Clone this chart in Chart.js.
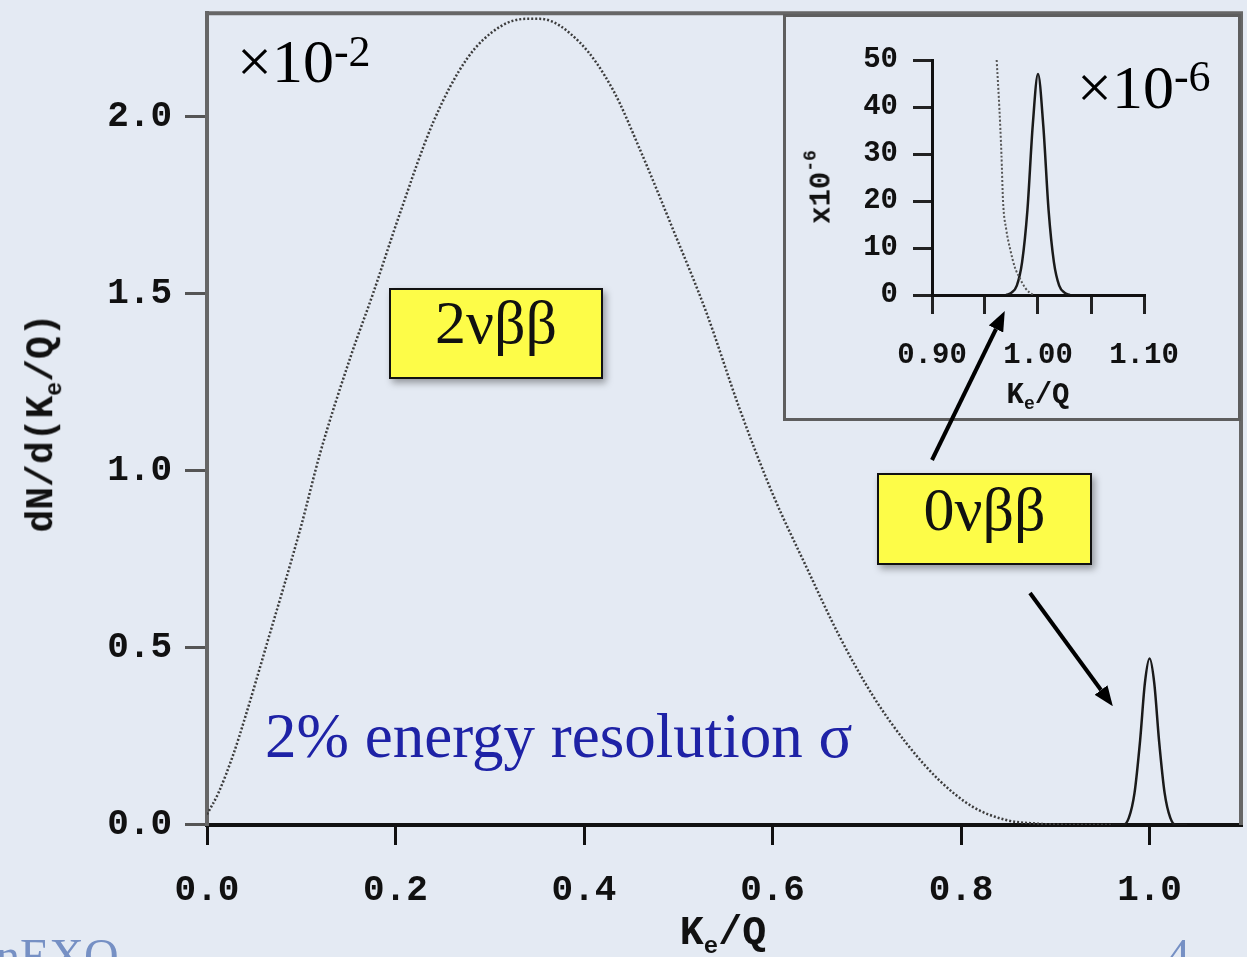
<!DOCTYPE html>
<html lang="en">
<head>
    <meta charset="UTF-8">
    <title>2νββ and 0νββ spectrum</title>
    <script src="https://cdn.jsdelivr.net/npm/chart.js@4.4.0/dist/chart.umd.min.js"></script>
    <style>
        html, body { margin: 0; padding: 0; }
        body {
            width: 1247px; height: 957px; overflow: hidden; position: relative;
            background: #e4eaf3;
            font-family: 'Liberation Serif', 'Times New Roman', serif;
        }
        canvas { position: absolute; }
        #main { left: 0; top: 0; }
        #inset { left: 783px; top: 14px; }
        .insetBox {
            position: absolute; left: 783px; top: 14px; width: 458px; height: 407px;
            border: 3px solid #5e5e5e; box-sizing: border-box;
        }
        .note { position: absolute; white-space: nowrap; line-height: 1; }
        .mono { font-family: 'Liberation Mono', 'Courier New', monospace; font-weight: bold; color: #111; }
        .center { transform: translate(-50%, -50%); }
        .rot { transform: translate(-50%, -50%) rotate(-90deg); }
        .tag {
            position: absolute; background: #fdfc48; border: 2px solid #111; box-sizing: border-box;
            text-align: center; font-size: 62px; color: #111;
            box-shadow: 3px 4px 7px rgba(0, 0, 0, 0.35);
        }
        .slide { color: #7690c4; font-size: 48px; }
    </style>
</head>
<body>
    <canvas id="main" width="1247" height="957"></canvas>
    <div class="insetBox"></div>
    <canvas id="inset" width="457" height="406"></canvas>

    <!-- axis titles -->
    <div class="note mono rot" style="left:45px; top:423px; font-size:38px;">dN/d(K<sub style="font-size:23px;">e</sub>/Q)</div>
    <div class="note mono center" style="left:723px; top:936px; font-size:40px;">K<sub style="font-size:24px;">e</sub>/Q</div>
    <div class="note mono center" style="left:1038px; top:397px; font-size:29px;">K<sub style="font-size:18px;">e</sub>/Q</div>
    <div class="note mono rot" style="left:822px; top:187px; font-size:29px;">x10<span style="font-size:18px; position:relative; top:-14px;">-6</span></div>

    <!-- annotations -->
    <div class="note" style="left:237px; top:30px; font-size:62px;">×10<span style="font-size:44px; position:relative; top:-16px;">-2</span></div>
    <div class="note" style="left:1077px; top:56px; font-size:62px;">×10<span style="font-size:44px; position:relative; top:-17px;">-6</span></div>
    <div class="tag" style="left:389px; top:288px; width:214px; height:91px; line-height:65px;">2νββ</div>
    <div class="tag" style="left:877px; top:473px; width:215px; height:92px; line-height:69px;">0νββ</div>
    <div class="note" style="left:265px; top:705px; font-size:63px; color:#1e22a6;">2% energy resolution σ</div>
    <div class="note slide" style="left:-4px; top:932px;">nEXO</div>
    <div class="note slide" style="left:1166px; top:932px;">4</div>

    <svg width="1247" height="957" style="position:absolute; left:0; top:0;">
        <defs>
            <marker id="head" markerWidth="5" markerHeight="4" refX="0" refY="2" orient="auto" markerUnits="strokeWidth">
                <path d="M0,0 L5,2 L0,4 z" fill="#000"/>
            </marker>
        </defs>
        <line x1="932" y1="460" x2="996" y2="329" stroke="#000" stroke-width="4" marker-end="url(#head)"/>
        <line x1="1030" y1="593" x2="1101" y2="690" stroke="#000" stroke-width="4" marker-end="url(#head)"/>
    </svg>

    <script>
        // main panel: dN/d(Ke/Q) in units of 1e-2
        const k2nu = [0, 0.012, 0.028, 0.04, 0.064, 0.1, 0.12, 0.152, 0.176, 0.205, 0.24, 0.276, 0.311, 0.339, 0.353,
                      0.396, 0.431, 0.459, 0.494, 0.53, 0.565, 0.6, 0.636, 0.671, 0.706, 0.742, 0.777, 0.812, 0.848, 0.88, 0.92, 0.96];
        const dn2nu = [0.03, 0.09, 0.2, 0.3, 0.516, 0.846, 1.05, 1.32, 1.5, 1.73, 1.985, 2.165, 2.255, 2.277, 2.277,
                       2.209, 2.075, 1.91, 1.685, 1.446, 1.176, 0.936, 0.728, 0.533, 0.367, 0.231, 0.126, 0.052, 0.014, 0.004, 0, 0];
        const k0nu = [0.96, 0.972, 0.978, 0.984, 0.99, 0.995, 1.0, 1.005, 1.01, 1.016, 1.022, 1.028, 1.04];
        const dn0nu = [0, 0, 0.02, 0.09, 0.24, 0.4, 0.47, 0.4, 0.24, 0.09, 0.02, 0, 0];

        // inset: units of 1e-6
        const insetK2nu = [0.961, 0.9635, 0.9655, 0.967, 0.97, 0.974, 0.978, 0.983, 0.988, 0.992, 0.996];
        const insetDn2nu = [50, 40, 30, 20, 14, 9.5, 6, 3.5, 1.5, 0.5, 0];
        const insetK0nu = [0.97, 0.975, 0.98, 0.985, 0.99, 0.995, 1.0, 1.005, 1.01, 1.015, 1.02, 1.025, 1.03];
        const insetDn0nu = [0, 0.5, 2, 7, 18, 36, 47, 36, 18, 7, 2, 0.5, 0];

        const mono = "'Liberation Mono', 'Courier New', monospace";
        const pts = (xs, ys) => xs.map((x, i) => ({ x: x, y: ys[i] }));

        const framePlugin = {
            id: 'frame',
            afterDraw(chart) {
                const { ctx, chartArea: a } = chart;
                ctx.save();
                ctx.strokeStyle = '#666';
                ctx.lineWidth = 4;
                ctx.beginPath();
                ctx.moveTo(a.left, a.top);
                ctx.lineTo(a.right, a.top);
                ctx.lineTo(a.right, a.bottom);
                ctx.stroke();
                ctx.restore();
            }
        };

        new Chart(document.getElementById('main'), {
            type: 'line',
            data: {
                datasets: [{
                    data: pts(k2nu, dn2nu),
                    borderColor: '#3c3c3c', borderWidth: 2.5, borderDash: [2, 2],
                    pointRadius: 0, cubicInterpolationMode: 'monotone', fill: false
                }, {
                    data: pts(k0nu, dn0nu),
                    borderColor: '#1a1a1a', borderWidth: 2.5,
                    pointRadius: 0, cubicInterpolationMode: 'monotone', fill: false
                }]
            },
            options: {
                responsive: false, animation: false, events: [],
                layout: { autoPadding: false, padding: { top: 12, right: 6, left: 0, bottom: 0 } },
                plugins: { legend: { display: false }, tooltip: { enabled: false } },
                scales: {
                    x: {
                        type: 'linear', min: 0, max: 1.097,
                        afterFit(s) { s.height = 132; },
                        border: { color: '#111', width: 4 },
                        grid: { drawOnChartArea: false, tickLength: 20, tickColor: '#111', lineWidth: 3 },
                        ticks: {
                            stepSize: 0.2, includeBounds: false, autoSkip: false, maxRotation: 0, padding: 24,
                            color: '#111', font: { family: mono, weight: 'bold', size: 36 },
                            callback: v => v.toFixed(1)
                        }
                    },
                    y: {
                        min: 0, max: 2.293,
                        afterFit(s) { s.width = 207; },
                        border: { color: '#666', width: 4 },
                        grid: { drawOnChartArea: false, tickLength: 22, tickColor: '#555', lineWidth: 3 },
                        ticks: {
                            stepSize: 0.5, includeBounds: false, autoSkip: false, padding: 13,
                            color: '#111', font: { family: mono, weight: 'bold', size: 36, lineHeight: 0.01 },
                            callback: v => v.toFixed(1)
                        }
                    }
                }
            },
            plugins: [framePlugin]
        });

        new Chart(document.getElementById('inset'), {
            type: 'line',
            data: {
                datasets: [{
                    data: pts(insetK2nu, insetDn2nu),
                    borderColor: '#555', borderWidth: 2, borderDash: [2, 2],
                    pointRadius: 0, cubicInterpolationMode: 'monotone', fill: false
                }, {
                    data: pts(insetK0nu, insetDn0nu),
                    borderColor: '#1a1a1a', borderWidth: 2.5,
                    pointRadius: 0, cubicInterpolationMode: 'monotone', fill: false
                }]
            },
            options: {
                responsive: false, animation: false, events: [],
                layout: { autoPadding: false, padding: { top: 46, right: 96, left: 0, bottom: 0 } },
                plugins: { legend: { display: false }, tooltip: { enabled: false } },
                scales: {
                    x: {
                        type: 'linear', min: 0.9, max: 1.1,
                        afterFit(s) { s.height = 125; },
                        border: { color: '#111', width: 3 },
                        grid: { drawOnChartArea: false, tickLength: 19, tickColor: '#222', lineWidth: 3 },
                        ticks: {
                            stepSize: 0.05, autoSkip: false, maxRotation: 0, padding: 24,
                            color: '#111', font: { family: mono, weight: 'bold', size: 29 },
                            callback: v => (Math.round(v * 100) % 10 === 0 ? v.toFixed(2) : '')
                        }
                    },
                    y: {
                        min: 0, max: 50,
                        afterFit(s) { s.width = 149; },
                        border: { color: '#111', width: 3 },
                        grid: { drawOnChartArea: false, tickLength: 19, tickColor: '#222', lineWidth: 3 },
                        ticks: {
                            stepSize: 10, autoSkip: false, padding: 15,
                            color: '#111', font: { family: mono, weight: 'bold', size: 29, lineHeight: 0.01 }
                        }
                    }
                }
            }
        });
    </script>
</body>
</html>
